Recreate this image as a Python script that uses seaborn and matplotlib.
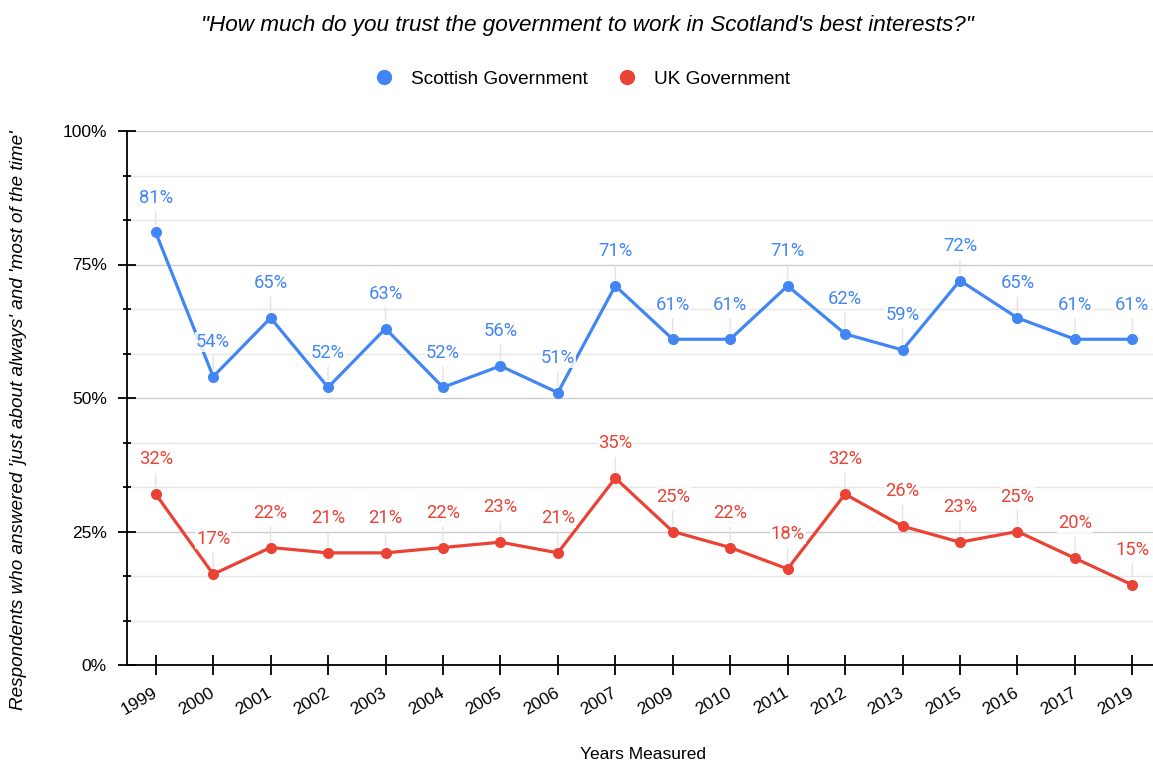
import matplotlib
matplotlib.use("Agg")
import matplotlib.pyplot as plt
from matplotlib.lines import Line2D
from matplotlib.ticker import MultipleLocator, FuncFormatter
import seaborn as sns
import pandas as pd

years = ["1999", "2000", "2001", "2002", "2003", "2004", "2005", "2006", "2007",
         "2009", "2010", "2011", "2012", "2013", "2015", "2016", "2017", "2019"]
scottish = [81, 54, 65, 52, 63, 52, 56, 51, 71, 61, 61, 71, 62, 59, 72, 65, 61, 61]
uk = [32, 17, 22, 21, 21, 22, 23, 21, 35, 25, 22, 18, 32, 26, 23, 25, 20, 15]
series_names = ["Scottish Government", "UK Government"]
colors = {"Scottish Government": "#4285F4", "UK Government": "#EA4335"}

df = pd.concat([
    pd.DataFrame({"Year": years, "Value": scottish, "Series": series_names[0]}),
    pd.DataFrame({"Year": years, "Value": uk, "Series": series_names[1]}),
], ignore_index=True)

sns.set_style("white")
plt.rcParams["font.family"] = ["Liberation Sans", "DejaVu Sans"]
plt.rcParams["text.color"] = "black"
plt.rcParams["axes.labelcolor"] = "black"
plt.rcParams["xtick.color"] = "black"
plt.rcParams["ytick.color"] = "black"

fig = plt.figure(figsize=(11.53, 7.64), dpi=100)
ax = fig.add_axes([127 / 1153, 1 - 665 / 764, 1 - 127 / 1153, (665 - 131) / 764])

sns.lineplot(data=df, x="Year", y="Value", hue="Series", palette=colors,
             marker="o", markersize=8, markeredgewidth=0, linewidth=2.3,
             sort=False, ax=ax, legend=False, zorder=3)

# data labels with leader lines
for name, vals in zip(series_names, [scottish, uk]):
    for i, v in enumerate(vals):
        ax.annotate(f"{v}%", xy=(i, v), xytext=(0, 25), textcoords="offset points",
                    ha="center", va="center", fontsize=13.2, family="Roboto",
                    color=colors[name], zorder=5,
                    bbox=dict(boxstyle="square,pad=0.05", fc="white", ec="none", alpha=0.85),
                    arrowprops=dict(arrowstyle="-", color="#e3e3e3", lw=1.0,
                                    shrinkA=3, shrinkB=5))

ax.set_ylim(0, 100)
ax.set_xlim(-0.5, 17.36)
ax.yaxis.set_major_locator(MultipleLocator(25))
ax.yaxis.set_minor_locator(MultipleLocator(100 / 12))
ax.yaxis.set_major_formatter(FuncFormatter(lambda v, p: f"{int(v)}%"))
ax.grid(True, which="major", axis="y", color="#cccccc", lw=1.0, zorder=0)
ax.grid(True, which="minor", axis="y", color="#e6e6e6", lw=1.0, zorder=0)
ax.grid(False, axis="x")
ax.set_axisbelow(True)

for s in ["top", "right"]:
    ax.spines[s].set_visible(False)
for s in ["left", "bottom"]:
    ax.spines[s].set_color("black")
    ax.spines[s].set_linewidth(1.3)

ax.tick_params(axis="y", which="major", direction="inout", length=13, width=1.3,
               color="black", labelcolor="black", labelsize=12.5, pad=8, left=True)
ax.tick_params(axis="y", which="minor", direction="inout", length=6, width=1.3,
               color="black", left=True)
ax.tick_params(axis="x", which="major", direction="inout", length=14, width=1.3,
               color="black", labelcolor="black", labelsize=12.5, pad=12, bottom=True)
for lab in ax.get_xticklabels():
    lab.set_rotation(30)
    lab.set_ha("right")
    lab.set_va("center")
    lab.set_rotation_mode("anchor")

ax.set_xlabel("Years Measured", fontsize=12.5, color="black")
ax.xaxis.set_label_coords(0.503, -0.154)
ax.set_ylabel("Respondents who answered 'just about always' and 'most of the time'",
              fontsize=13.6, style="italic", color="black")
ax.yaxis.set_label_coords(-0.097, 0.459)

fig.text(0.509, 0.967,
         "\"How much do you trust the government to work in Scotland's best interests?\"",
         ha="center", va="center", fontsize=16.2, style="italic", color="black")

handles = [Line2D([0], [0], marker="o", color="none", markerfacecolor=colors[n],
                  markeredgewidth=0, markersize=11, label=n) for n in series_names]
leg = fig.legend(handles=handles, loc="center", bbox_to_anchor=(0.505, 0.8966), ncol=2,
                 frameon=False, fontsize=13.7, handletextpad=0.9, columnspacing=1.6,
                 handlelength=1.0)
for t in leg.get_texts():
    t.set_color("black")

fig.savefig("out.png", dpi=100, facecolor="white")
